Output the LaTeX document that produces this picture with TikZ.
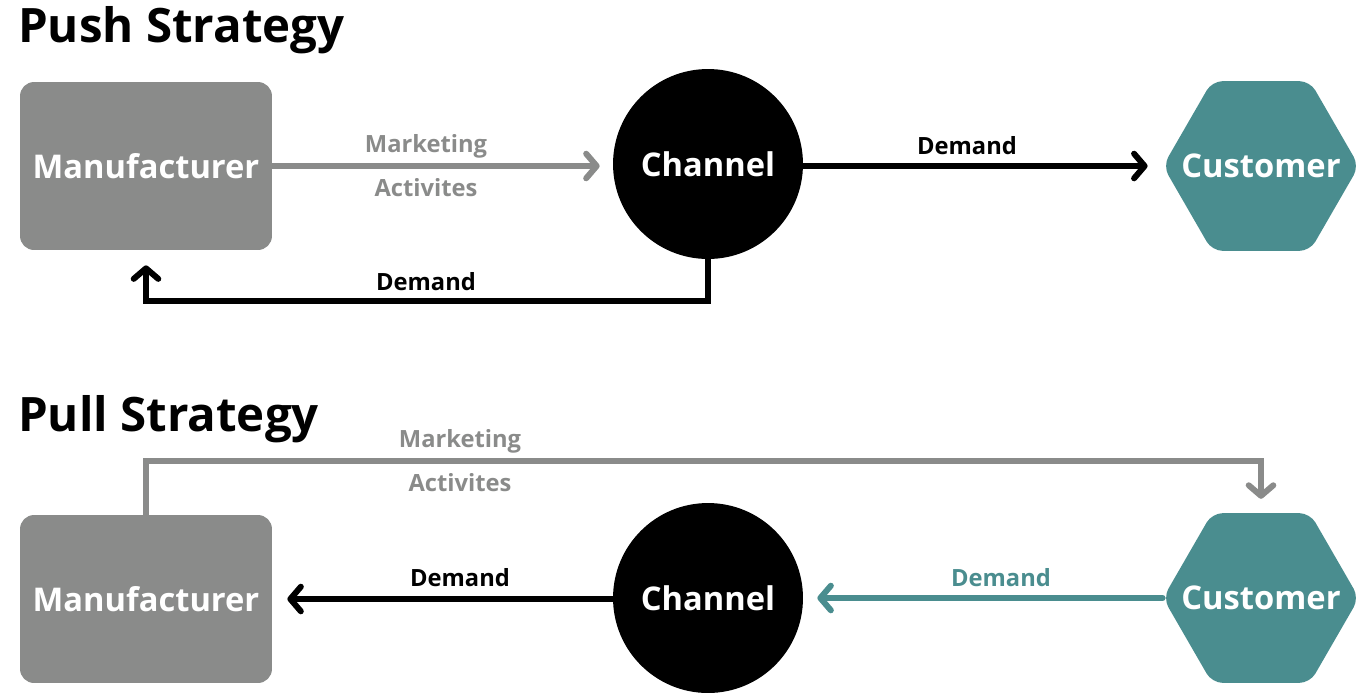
\documentclass[tikz,border=0pt]{standalone}
\usepackage{fontspec}
\setmainfont{Open Sans}
\usetikzlibrary{shapes.geometric, arrows.meta, positioning}
\definecolor{boxgray}{RGB}{138,139,138}
\definecolor{custteal}{RGB}{74,141,143}

\begin{document}
\begin{tikzpicture}[
    x=0.02cm, y=-0.02cm,
    heading/.style={
        anchor=base west,
        font=\fontsize{27}{30}\selectfont\bfseries
    },
    box/.style={
        rectangle,
        fill=boxgray,
        rounded corners=8pt,
        minimum width=5.04cm,
        minimum height=3.36cm,
        text=white,
        font=\fontsize{18.6}{22}\selectfont\bfseries
    },
    hub/.style={
        circle,
        fill=black,
        inner sep=0pt,
        minimum size=3.8cm,
        text=white,
        font=\fontsize{18.6}{22}\selectfont\bfseries
    },
    cust/.style={
        regular polygon,
        regular polygon sides=6,
        fill=custteal,
        rounded corners=6pt,
        inner sep=0pt,
        minimum size=3.92cm,
        label={[text=white, font=\fontsize{18.6}{22}\selectfont\bfseries]center:#1}
    },
    lbl/.style={font=\fontsize{13.5}{16}\selectfont\bfseries},
    arrow/.style={
        line width=3.4pt,
        line cap=round,
        -{Straight Barb[length=6pt,width=14pt,round]}
    }
]
\useasboundingbox (0,0) rectangle (1358,694);

% push strategy
\node (push) [heading] at (12,42) {Push Strategy};
\node (man1) [box] at (146,166) {Manufacturer};
\node (chan1) [hub] at (708,164) {Channel};
\node (cust1) [cust=Customer] at (1261,166) {};

\draw [arrow, boxgray, shorten >=0.26cm] (man1.east) -- (man1.east -| chan1.west);
\draw [arrow, shorten >=0.3cm] (chan1.east |- cust1.west) -- (cust1.west);
\draw [arrow, shorten >=0.3cm] (chan1.south) -- ++(0,42) -| (man1.south);

\node (mkt1) [lbl, boxgray] at (426,146) {Marketing};
\node (act1) [lbl, boxgray] at (426,188) {Activites};
\node (dem1) [lbl] at (967,146) {Demand};
\node (dem2) [lbl] at (426,282) {Demand};

% pull strategy
\node (pull) [heading] at (12,431) {Pull Strategy};
\node (man2) [box] at (146,599) {Manufacturer};
\node (chan2) [hub] at (708,598) {Channel};
\node (cust2) [cust=Customer] at (1261,598) {};

\draw [arrow, boxgray, shorten >=0.28cm] (man2.north) -- ++(0,-54) -| (cust2.north);
\draw [arrow, shorten >=0.3cm] (chan2.west |- man2.east) -- (man2.east);
\draw [arrow, custteal, shorten >=0.28cm] (cust2.west) -- (chan2.east |- cust2.west);

\node (mkt2) [lbl, boxgray] at (460,441) {Marketing};
\node (act2) [lbl, boxgray] at (460,483) {Activites};
\node (dem3) [lbl] at (460,578) {Demand};
\node (dem4) [lbl, custteal] at (1001,578) {Demand};

\end{tikzpicture}
\end{document}
